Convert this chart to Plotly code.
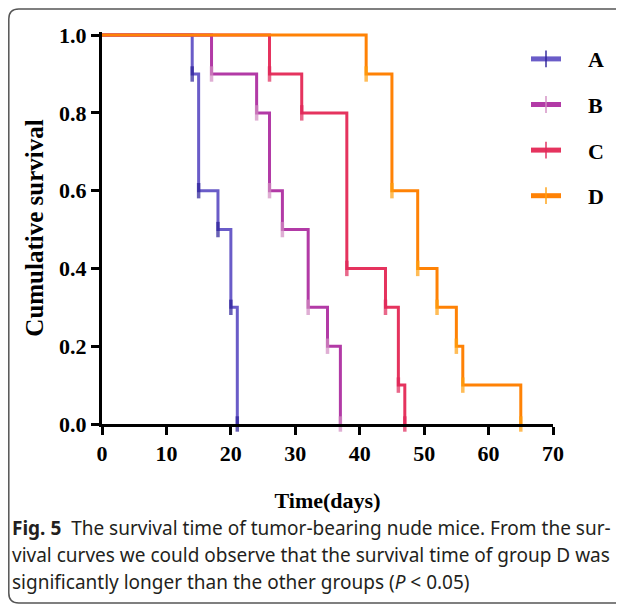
import plotly.graph_objects as go

# ---- data ----
groups = ["A", "B", "C", "D"]
times_A = [14, 15, 18, 20, 21]
surv_A = [0.9, 0.6, 0.5, 0.3, 0.0]
times_B = [17, 24, 26, 28, 32, 35, 37]
surv_B = [0.9, 0.8, 0.6, 0.5, 0.3, 0.2, 0.0]
times_C = [26, 31, 38, 44, 46, 47]
surv_C = [0.9, 0.8, 0.4, 0.3, 0.1, 0.0]
times_D = [41, 45, 49, 52, 55, 56, 65]
surv_D = [0.9, 0.6, 0.4, 0.3, 0.2, 0.1, 0.0]
x_ticks = [0, 10, 20, 30, 40, 50, 60, 70]
y_ticks = [0.0, 0.2, 0.4, 0.6, 0.8, 1.0]

line_colors = ["#6A5CC8", "#B23AA6", "#E5335E", "#FF8205"]
tick_colors = ["#2B1F98", "#D28DC2", "#E0285A", "#FFA010"]

series = [(times_A, surv_A), (times_B, surv_B), (times_C, surv_C), (times_D, surv_D)]

# ---- layout geometry (screen coordinates; page body has an 8px margin) ----
WIDTH, HEIGHT = 624, 607
OFF = 8
PL, PR, PT, PB = 102, 553, 35 - 3.1, 424   # plot area on screen
L = PL - OFF
T = PT - OFF
PW = PR - PL
PH = PB - PT
R = WIDTH - L - PW
B = HEIGHT - T - PH


def px(x):
    return (x - PL) / PW


def py(y):
    return (PB - y) / PH


fig = go.Figure()
for i, (g, (t, s)) in enumerate(zip(groups, series)):
    xs = [0] + t
    ys = [1.0] + s
    sizes = [0] + [11] * len(t)
    fig.add_trace(go.Scatter(
        x=xs, y=ys, mode="lines+markers", name="\u00a0\u00a0\u00a0\u00a0" + g,
        legendgroup=g,
        line=dict(color=line_colors[i], width=3, shape="hv"),
        marker=dict(symbol="line-ns", size=sizes,
                    line=dict(color=tick_colors[i], width=3.5)),
        cliponaxis=False,
    ))

serif = "Liberation Serif"
fig.update_xaxes(
    range=[0, 70], tickvals=x_ticks, ticktext=[str(v) for v in x_ticks],
    showline=True, linecolor="black", linewidth=3,
    ticks="outside", ticklen=8, tickwidth=3, tickcolor="black",
    showgrid=False, zeroline=False,
    tickfont=dict(family=serif, size=22, color="black", weight="bold"),
    title=dict(text="<b>Time(days)</b>", font=dict(family=serif, size=22, color="black"), standoff=28),
)
fig.update_yaxes(
    range=[0, 1.008], tickvals=y_ticks, tickformat=".1f",
    showline=True, linecolor="black", linewidth=3,
    ticks="outside", ticklen=8, tickwidth=3, tickcolor="black",
    showgrid=False, zeroline=False,
    tickfont=dict(family=serif, size=22, color="black", weight="bold"),
    title=dict(text="<b>Cumulative survival</b>", font=dict(family=serif, size=25, color="black"), standoff=9),
)

# rounded frame (drawn at the very edge of the figure)
x0, x1, y0, y1, r = OFF + 0.8, 650, OFF + 0.8, 603, 10
path = (f"M {px(x1)} {py(y0)} L {px(x0 + r)} {py(y0)} "
        f"Q {px(x0)} {py(y0)} {px(x0)} {py(y0 + r)} "
        f"L {px(x0)} {py(y1 - r)} "
        f"Q {px(x0)} {py(y1)} {px(x0 + r)} {py(y1)} "
        f"L {px(x1)} {py(y1)}")
fig.add_shape(type="path", path=path, xref="paper", yref="paper",
              line=dict(color="#555555", width=1.5), layer="below")

caption_lines = [
    "<b>Fig. 5</b>  The survival time of tumor-bearing nude mice. From the sur-",
    "vival curves we could observe that the survival time of group D was",
    "significantly longer than the other groups (<i>P</i> &lt; 0.05)",
]
for k, txt in enumerate(caption_lines):
    fig.add_annotation(
        text=txt, xref="paper", yref="paper",
        x=px(10), y=py(528 + 27 * k), xanchor="left", yanchor="middle",
        showarrow=False, align="left",
        font=dict(family="Noto Sans", size=19, color="#231F20"),
    )

fig.update_layout(
    width=WIDTH, height=HEIGHT,
    margin=dict(l=L, r=R, t=T, b=B, autoexpand=False),
    paper_bgcolor="white", plot_bgcolor="white",
    showlegend=True,
    legend=dict(
        x=px(526), y=py(38), xanchor="left", yanchor="top",
        font=dict(family=serif, size=22, color="black", weight="bold"),
        itemwidth=30, itemsizing="constant", tracegroupgap=14,
        bgcolor="rgba(0,0,0,0)",
    ),
)

fig.write_html("out.html")
